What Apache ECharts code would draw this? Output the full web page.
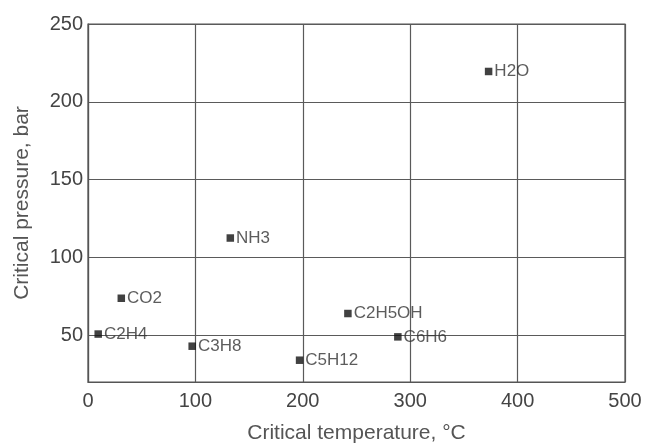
<!DOCTYPE html>
<html>
<head>
<meta charset="utf-8">
<script src="https://cdn.jsdelivr.net/npm/echarts@6/dist/echarts.min.js"></script>
<style>html,body{margin:0;padding:0;background:#fff}#c{width:646px;height:445px}</style>
</head>
<body>
<div id="c"></div>
<script>
var substances = ['H2O', 'NH3', 'CO2', 'C2H4', 'C3H8', 'C5H12', 'C2H5OH', 'C6H6'];
var critTemp = [373, 132.5, 31, 9.5, 97, 197, 242, 288.5];
var critPress = [219.5, 112.5, 73.8, 50.8, 43, 34, 64, 49];
var xTicks = [0, 100, 200, 300, 400, 500];
var yTicks = [50, 100, 150, 200, 250];

var points = substances.map(function (n, i) { return { name: n, value: [critTemp[i], critPress[i]] }; });
var chart = echarts.init(document.getElementById('c'));
chart.setOption({
  animation: false,
  grid: { left: 88, right: 21, top: 24, bottom: 63, outerBoundsMode: 'none', containLabel: false, show: true, borderColor: '#555', borderWidth: 1.2 },
  xAxis: {
    type: 'value', min: 0, max: 500, interval: 100,
    name: 'Critical temperature, °C', nameLocation: 'middle', nameGap: 41,
    nameTextStyle: { fontFamily: 'Liberation Sans', fontSize: 21, color: '#555' },
    axisLine: { show: true, lineStyle: { color: '#555', width: 1.2 } },
    axisTick: { show: false },
    axisLabel: { fontFamily: 'Liberation Sans', fontSize: 20, color: '#444', margin: 9 },
    splitLine: { show: true, lineStyle: { color: '#5a5a5a', width: 1.2 } }
  },
  yAxis: {
    type: 'value', min: 20, max: 250,
    name: 'Critical pressure, bar', nameLocation: 'middle', nameGap: 55,
    nameTextStyle: { fontFamily: 'Liberation Sans', fontSize: 21, color: '#555' },
    axisLine: { show: true, lineStyle: { color: '#555', width: 1.2 } },
    axisTick: { show: false, customValues: yTicks },
    axisLabel: { fontFamily: 'Liberation Sans', fontSize: 20, color: '#444', margin: 5, customValues: yTicks },
    splitLine: { show: true, lineStyle: { color: '#5a5a5a', width: 1.2 } }
  },
  series: [{
    type: 'scatter',
    data: points,
    symbol: 'rect', symbolSize: 7.5,
    itemStyle: { color: '#111' },
    label: {
      show: true, position: 'right', distance: 2,
      formatter: '{b}',
      fontFamily: 'Liberation Sans', fontSize: 17, color: '#333'
    }
  }]
});
</script>
</body>
</html>
